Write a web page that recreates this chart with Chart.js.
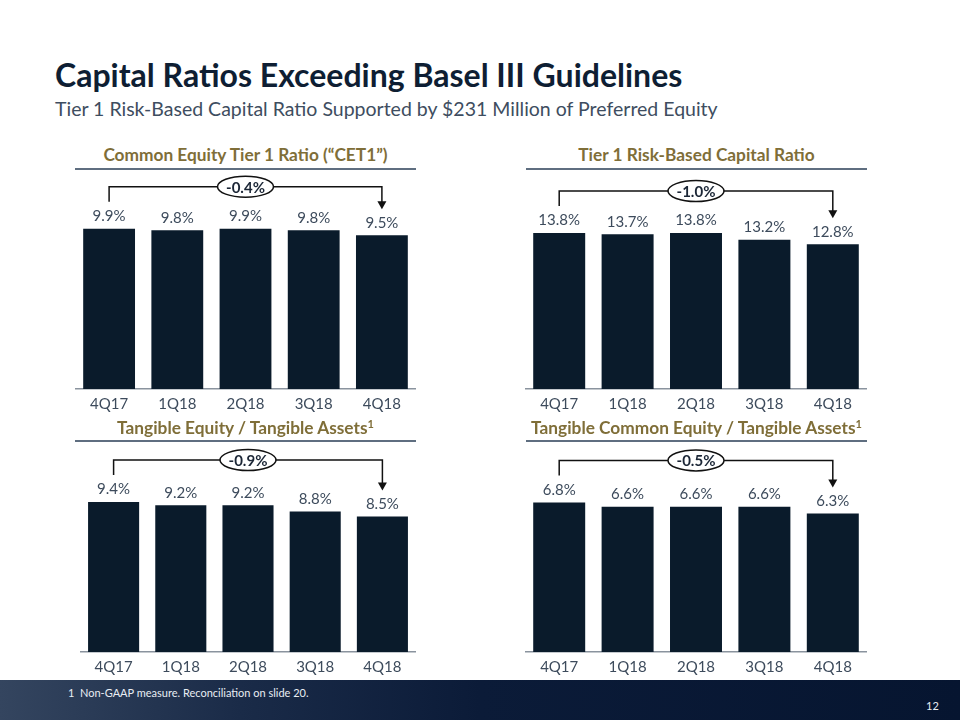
<!DOCTYPE html>
<html>
<head>
<meta charset="utf-8">
<script src="https://cdn.jsdelivr.net/npm/chart.js@4.4.1/dist/chart.umd.min.js"></script>
<style>
  body { margin: 0; width: 960px; height: 720px; position: relative; background: #fff; font-family: Lato, sans-serif; overflow: hidden; }
  h1 { position: absolute; left: 55px; top: 55px; margin: 0; font-size: 32px; font-weight: 700; color: #0e1e33; white-space: nowrap; }
  h2 { position: absolute; left: 55px; top: 97px; margin: 0; font-size: 19.5px; font-weight: 400; color: #3e4d60; white-space: nowrap; }
  .ptitle { position: absolute; text-align: center; font-size: 17.3px; font-weight: 700; color: #7f6e38; white-space: nowrap; }
  .ptitle sup { font-size: 11px; vertical-align: 6px; line-height: 0; }
  .rule { position: absolute; height: 2px; background: #5f6e80; }
  canvas { position: absolute; }
  .footer { position: absolute; left: 0; top: 680px; width: 960px; height: 40px;
    background: linear-gradient(to right, #34455f 0%, #1a2b48 25%, #0b1b38 50%, #061530 100%); }
  .note { position: absolute; left: 68px; top: 686px; font-size: 11px; color: #e8edf3; white-space: nowrap; }
  .page { position: absolute; left: 926px; top: 699px; font-size: 11px; color: #e8edf3; }
</style>
</head>
<body>
<h1>Capital Ratios Exceeding Basel III Guidelines</h1>
<h2>Tier 1 Risk-Based Capital Ratio Supported by $231 Million of Preferred Equity</h2>

<div class="ptitle" style="left:75px;width:341px;top:144px;">Common Equity Tier 1 Ratio (“CET1”)</div>
<div class="rule" style="left:75px;width:341px;top:168px;"></div>
<canvas id="c1" width="341" height="247" style="left:75px;top:172px;"></canvas>

<div class="ptitle" style="left:526px;width:341px;top:144px;">Tier 1 Risk-Based Capital Ratio</div>
<div class="rule" style="left:526px;width:341px;top:168px;"></div>
<canvas id="c2" width="342" height="247" style="left:525px;top:172px;"></canvas>

<div class="ptitle" style="left:75px;width:341px;top:417px;">Tangible Equity / Tangible Assets<sup>1</sup></div>
<div class="rule" style="left:75px;width:341px;top:440px;"></div>
<canvas id="c3" width="336" height="239" style="left:80px;top:443px;"></canvas>

<div class="ptitle" style="left:526px;width:341px;top:417px;">Tangible Common Equity / Tangible Assets<sup>1</sup></div>
<div class="rule" style="left:526px;width:341px;top:440px;"></div>
<canvas id="c4" width="342" height="239" style="left:525px;top:443px;"></canvas>

<div class="footer"></div>
<div class="note">1&nbsp;&nbsp;Non-GAAP measure. Reconciliation on slide 20.</div>
<div class="page">12</div>

<script>
const quarters = ['4Q17', '1Q18', '2Q18', '3Q18', '4Q18'];
const cet1 = [9.9, 9.8, 9.9, 9.8, 9.5];
const tier1 = [13.8, 13.7, 13.8, 13.2, 12.8];
const tangibleEquity = [9.4, 9.2, 9.2, 8.8, 8.5];
const tangibleCommon = [6.8, 6.6, 6.6, 6.6, 6.3];
const changeLabels = ['-0.4%', '-1.0%', '-0.9%', '-0.5%'];
const axisMax = [13.4, 19.2, 13.1, 9.5];

// value labels plus the bracket / arrow with the change oval
const annotate = {
  id: 'annotate',
  afterDatasetsDraw(chart, args, opts) {
    const ctx = chart.ctx;
    const bars = chart.getDatasetMeta(0).data;
    const values = chart.data.datasets[0].data;
    ctx.save();
    ctx.fillStyle = '#3d4b5c';
    ctx.font = '15px Lato';
    ctx.textAlign = 'center';
    ctx.textBaseline = 'bottom';
    bars.forEach((bar, i) => ctx.fillText(values[i].toFixed(1) + '%', bar.x, bar.y - 5));

    const first = bars[0];
    const last = bars[bars.length - 1];
    const top = first.y - 42;
    ctx.strokeStyle = '#111';
    ctx.lineWidth = 1.5;
    ctx.beginPath();
    ctx.moveTo(first.x, first.y - 27);
    ctx.lineTo(first.x, top);
    ctx.lineTo(last.x, top);
    ctx.lineTo(last.x, last.y - 33);
    ctx.stroke();

    ctx.fillStyle = '#111';
    ctx.beginPath();
    ctx.moveTo(last.x - 4.5, last.y - 34);
    ctx.lineTo(last.x + 4.5, last.y - 34);
    ctx.lineTo(last.x, last.y - 26);
    ctx.closePath();
    ctx.fill();

    const mx = (first.x + last.x) / 2;
    ctx.beginPath();
    ctx.ellipse(mx, top, 28, 10.5, 0, 0, Math.PI * 2);
    ctx.fillStyle = '#fff';
    ctx.fill();
    ctx.stroke();
    ctx.fillStyle = '#1b2636';
    ctx.font = 'bold 15px Lato';
    ctx.textBaseline = 'middle';
    ctx.fillText(opts.change, mx, top + 1);
    ctx.restore();
  }
};

function makeChart(id, values, max, change) {
  return new Chart(document.getElementById(id), {
    type: 'bar',
    data: {
      labels: quarters,
      datasets: [{
        data: values,
        backgroundColor: '#0a1b2b',
        barPercentage: 0.76,
        categoryPercentage: 1
      }]
    },
    options: {
      responsive: false,
      animation: false,
      layout: { padding: 0 },
      scales: {
        x: {
          grid: { display: false, drawTicks: false },
          border: { display: true, color: '#8a939e', width: 1.5 },
          ticks: { color: '#3d4b5c', font: { family: 'Lato', size: 15 }, padding: 6 }
        },
        y: { display: false, min: 0, max: max }
      },
      plugins: {
        legend: { display: false },
        tooltip: { enabled: false },
        annotate: { change: change }
      }
    },
    plugins: [annotate]
  });
}

makeChart('c1', cet1, axisMax[0], changeLabels[0]);
makeChart('c2', tier1, axisMax[1], changeLabels[1]);
makeChart('c3', tangibleEquity, axisMax[2], changeLabels[2]);
makeChart('c4', tangibleCommon, axisMax[3], changeLabels[3]);
</script>
</body>
</html>
